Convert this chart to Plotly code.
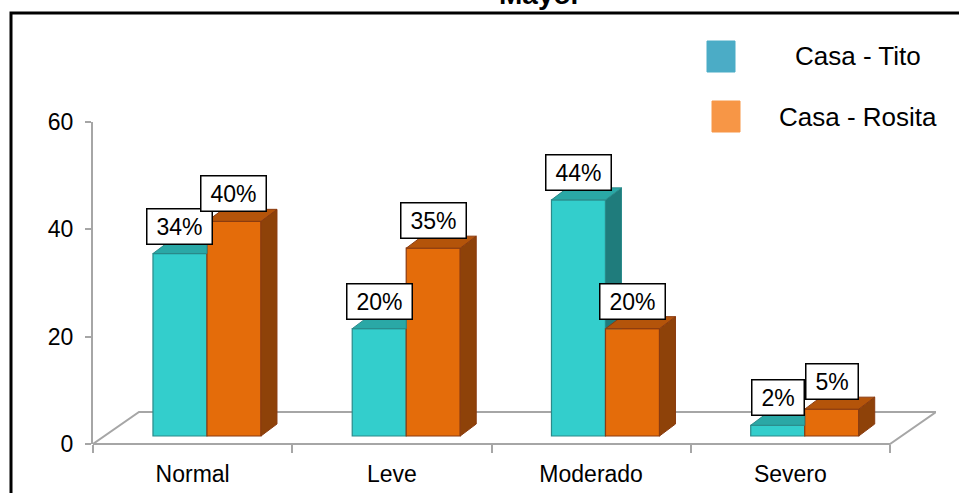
import plotly.graph_objects as go

# ---------------- data ----------------
categories = ["Normal", "Leve", "Moderado", "Severo"]
series_names = ["Casa - Tito", "Casa - Rosita"]
tito = [34, 20, 44, 2]
rosita = [40, 35, 20, 5]
y_ticks = [0, 20, 40, 60]
title_text = "Mayor"

# ---------------- geometry / style ----------------
W, H = 959, 493
L, R, T, B = 93, 23, 122, 49
PLOT_W = W - L - R
PLOT_H = H - T - B
YMAX = 60
X0 = -0.5
XU_PX = 797 / 4.0              # px per category
XMAX = X0 + PLOT_W / XU_PX
YU_PX = PLOT_H / YMAX          # px per y unit

BASE = 8 / YU_PX               # raised floor
DX = 16 / XU_PX                # bar depth (x)
DY = 12 / YU_PX                # bar depth (y)
BW = 54 / XU_PX                # bar width
OFFS = [-0.199, -0.199 + BW]   # offsets of the two series

FLOOR_DX = 46 / XU_PX
FLOOR_DY = 32 / YU_PX

front_cols = ["#33CECC", "#E46C0A"]
line_cols = ["#2A8A8A", "#8A3B10"]
side_cols = ["#1F7C7C", "#8E4209"]
top_cols = ["#2AA8A6", "#B4540A"]
legend_cols = ["#4BACC6", "#F79646"]

FONT = "Liberation Sans, Arial, sans-serif"


def px_to_paper_x(px):
    return (px - L) / PLOT_W


def px_to_paper_y(py):
    return (H - B - py) / PLOT_H


fig = go.Figure()
series = [tito, rosita]
idx = list(range(len(categories)))

# front faces
for s, vals in enumerate(series):
    fig.add_trace(go.Bar(
        x=idx, y=vals, base=BASE, offset=OFFS[s], width=BW,
        marker=dict(color=front_cols[s], line=dict(color=line_cols[s], width=1.2)),
        name=series_names[s], showlegend=False, hoverinfo="skip",
    ))

# 3D side and top faces
for i in idx:
    for s, vals in enumerate(series):
        x0 = i + OFFS[s]
        x1 = x0 + BW
        top = vals[i] + BASE
        if s == 0:
            other_top = series[1][i] + BASE
            # side face (visible only above the neighbouring bar)
            if top > other_top:
                xs = [x1, x1 + DX, x1 + DX, x1, x1]
                ys = [other_top, other_top, top + DY, top, other_top]
                fig.add_trace(go.Scatter(x=xs, y=ys, fill="toself", mode="lines",
                                         fillcolor=side_cols[s], line=dict(color=line_cols[s], width=1),
                                         showlegend=False, hoverinfo="skip"))
                xs = [x0, x1, x1 + DX, x0 + DX, x0]
                ys = [top, top, top + DY, top + DY, top]
            else:
                xs = [x0, x1, x1, x0 + DX, x0]
                ys = [top, top, top + DY, top + DY, top]
            fig.add_trace(go.Scatter(x=xs, y=ys, fill="toself", mode="lines",
                                     fillcolor=top_cols[s], line=dict(color=line_cols[s], width=1),
                                     showlegend=False, hoverinfo="skip"))
        else:
            xs = [x1, x1 + DX, x1 + DX, x1, x1]
            ys = [BASE, BASE + DY, top + DY, top, BASE]
            fig.add_trace(go.Scatter(x=xs, y=ys, fill="toself", mode="lines",
                                     fillcolor=side_cols[s], line=dict(color=line_cols[s], width=1),
                                     showlegend=False, hoverinfo="skip"))
            xs = [x0, x1, x1 + DX, x0 + DX, x0]
            ys = [top, top, top + DY, top + DY, top]
            fig.add_trace(go.Scatter(x=xs, y=ys, fill="toself", mode="lines",
                                     fillcolor=top_cols[s], line=dict(color=line_cols[s], width=1),
                                     showlegend=False, hoverinfo="skip"))

# data labels
for s, vals in enumerate(series):
    for i in idx:
        txt = f"{vals[i]}%"
        fig.add_annotation(
            x=i + OFFS[s] + BW / 2, y=vals[i] + BASE, xref="x", yref="y",
            text=txt, showarrow=False, yanchor="bottom", yshift=9,
            font=dict(family=FONT, size=23, color="black"),
            bgcolor="white", bordercolor="black", borderwidth=1.5, borderpad=4,
            width=56 if len(txt) == 3 else 43,
        )

# floor (pseudo-3D)
gray = "#A6A6A6"
fy_back = FLOOR_DY / YMAX
floor_path = (f"M {X0},0 L {X0 + FLOOR_DX},{fy_back} L {3.5 + FLOOR_DX},{fy_back} "
              f"L 3.5,0 Z")
fig.add_shape(type="path", path=floor_path, xref="x", yref="paper",
              line=dict(color=gray, width=2), fillcolor="white", layer="below")

# outer frame
fig.add_shape(type="rect", xref="paper", yref="paper",
              x0=px_to_paper_x(11), x1=px_to_paper_x(980),
              y0=px_to_paper_y(520), y1=px_to_paper_y(13),
              line=dict(color="black", width=3))

# title (partly cut at the top, as in the original)
fig.add_annotation(text=f"<b>{title_text}</b>", x=px_to_paper_x(540), y=px_to_paper_y(12),
                   xref="paper", yref="paper", showarrow=False, yanchor="bottom",
                   font=dict(family=FONT, size=28, color="black"))

# legend (manual)
leg_sq = [(707, 41), (712, 101)]
leg_txt_y = [56, 117]
for s in range(2):
    sx, sy = leg_sq[s]
    fig.add_shape(type="rect", xref="paper", yref="paper",
                  x0=px_to_paper_x(sx), x1=px_to_paper_x(sx + 28),
                  y0=px_to_paper_y(sy + 31), y1=px_to_paper_y(sy),
                  line=dict(color=legend_cols[s], width=1), fillcolor=legend_cols[s])
    fig.add_annotation(text=series_names[s], x=px_to_paper_x(858), y=px_to_paper_y(leg_txt_y[s]),
                       xref="paper", yref="paper", showarrow=False,
                       xanchor="center", yanchor="middle",
                       font=dict(family=FONT, size=26, color="black"))

fig.update_layout(
    width=W, height=H,
    margin=dict(l=L, r=R, t=T, b=B, autoexpand=False),
    paper_bgcolor="white", plot_bgcolor="white",
    barmode="overlay",
    showlegend=False,
    xaxis=dict(
        range=[X0, XMAX], showgrid=False, zeroline=False, showline=False,
        automargin=False,
        tickmode="array", tickvals=idx, ticktext=categories, ticks="",
        tickfont=dict(family=FONT, size=23, color="black"),
        ticklabelstandoff=14,
        minor=dict(tickmode="array", tickvals=[X0 + k for k in range(len(categories) + 1)],
                   ticks="outside", ticklen=8, tickcolor=gray, tickwidth=2),
    ),
    yaxis=dict(
        range=[0, YMAX], showgrid=False, zeroline=False, showline=True,
        automargin=False,
        linecolor=gray, linewidth=2,
        tickmode="array", tickvals=y_ticks, ticks="outside", ticklen=6,
        tickcolor=gray, tickwidth=2,
        tickfont=dict(family=FONT, size=23, color="black"),
        ticklabelstandoff=7,
    ),
)

fig.write_html("out.html")
